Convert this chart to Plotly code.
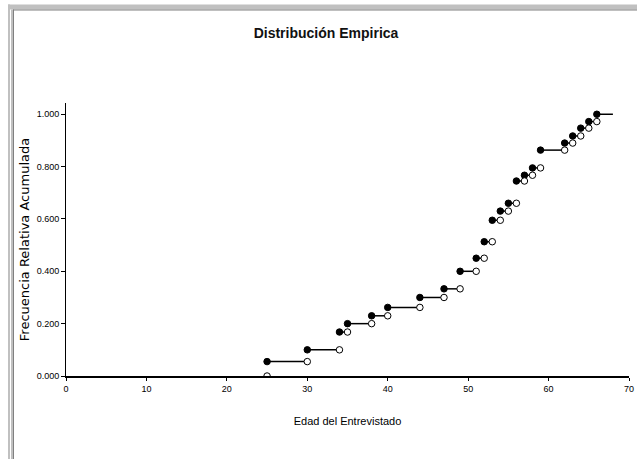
import plotly.graph_objects as go

ages = [25, 30, 34, 35, 38, 40, 44, 47, 49, 51, 52, 53, 54, 55, 56, 57, 58, 59, 62, 63, 64, 65, 66]
cum_freq = [0.055, 0.100, 0.168, 0.200, 0.230, 0.262, 0.300, 0.333, 0.400, 0.450, 0.513,
            0.595, 0.630, 0.660, 0.745, 0.767, 0.795, 0.863, 0.890, 0.917, 0.947, 0.972, 1.000]
last_age = 68
x_ticks = [0, 10, 20, 30, 40, 50, 60, 70]
y_ticks = [0.0, 0.2, 0.4, 0.6, 0.8, 1.0]

title_text = "Distribución Empirica"
x_title = "Edad del Entrevistado"
y_title = "Frecuencia Relativa Acumulada"

FONT = "Liberation Sans Narrow, Arial Narrow, Liberation Sans, Arial, sans-serif"

seg_x, seg_y = [], []
for i, a in enumerate(ages):
    nxt = ages[i + 1] if i + 1 < len(ages) else last_age
    seg_x += [a, nxt, None]
    seg_y += [cum_freq[i], cum_freq[i], None]

open_y = [0.0] + cum_freq[:-1]

fig = go.Figure()
fig.add_trace(go.Scatter(x=seg_x, y=seg_y, mode="lines",
                         line=dict(color="black", width=1.5), hoverinfo="skip", showlegend=False))
fig.add_trace(go.Scatter(x=ages, y=cum_freq, mode="markers",
                         marker=dict(symbol="circle", size=6.5, color="black",
                                     line=dict(color="black", width=1)), showlegend=False))
fig.add_trace(go.Scatter(x=ages, y=open_y, mode="markers",
                         marker=dict(symbol="circle", size=6.5, color="white",
                                     line=dict(color="black", width=1)), showlegend=False))

W, H = 637, 459
L, R = 66, 629
T, B = 103, 375.7
ml, mr, mt, mb = L, W - R, T, H - B

def px(x):
    return (x - L) / (R - L)

def py(y):
    return (B - y) / (B - T)

shapes = [
    dict(type="rect", xref="paper", yref="paper", x0=px(8), x1=px(640), y0=py(9.5), y1=py(4.5),
         fillcolor="#c0c0c0", line=dict(width=0), layer="above"),
    dict(type="rect", xref="paper", yref="paper", x0=px(13), x1=px(640), y0=py(10.5), y1=py(9.5),
         fillcolor="#808080", line=dict(width=0), layer="above"),
    dict(type="rect", xref="paper", yref="paper", x0=px(8), x1=px(10), y0=py(462), y1=py(4.5),
         fillcolor="#c0c0c0", line=dict(width=0), layer="above"),
    dict(type="rect", xref="paper", yref="paper", x0=px(11), x1=px(13), y0=py(462), y1=py(9.5),
         fillcolor="#c0c0c0", line=dict(width=0), layer="above"),
    dict(type="rect", xref="paper", yref="paper", x0=px(13), x1=px(14), y0=py(462), y1=py(9.5),
         fillcolor="#808080", line=dict(width=0), layer="above"),
]

fig.update_layout(
    width=W, height=H,
    margin=dict(l=ml, r=mr, t=mt, b=mb, pad=0, autoexpand=False),
    paper_bgcolor="white", plot_bgcolor="white",
    font=dict(family=FONT, color="black", size=9),
    title=dict(text="<b>" + title_text + "</b>", x=px(326), xref="paper", xanchor="center",
               y=1 - 33 / H, yanchor="middle", font=dict(family=FONT, size=14, color="#111")),
    shapes=shapes,
    showlegend=False,
)
fig.update_xaxes(range=[0, 70], tickvals=x_ticks, ticktext=[str(v) for v in x_ticks],
                 showgrid=False, zeroline=False, showline=True, linecolor="black", linewidth=1.5,
                 ticks="outside", ticklen=3, tickcolor="black", tickfont=dict(size=9),
                 automargin=False,
                 title=dict(text=x_title, font=dict(size=11), standoff=25))
fig.update_yaxes(range=[0, 1.043], tickvals=y_ticks, ticktext=[f"{v:.3f}" for v in y_ticks],
                 showgrid=False, zeroline=False, showline=True, linecolor="black", linewidth=1,
                 ticks="outside", ticklen=4, tickcolor="black", tickfont=dict(size=9),
                 automargin=False,
                 title=dict(text=y_title, font=dict(family="DejaVu Sans, sans-serif", size=13), standoff=4))

fig.write_html("out.html", config={"displayModeBar": False},
               post_script="document.body.style.margin='0';document.body.style.overflow='hidden';")
